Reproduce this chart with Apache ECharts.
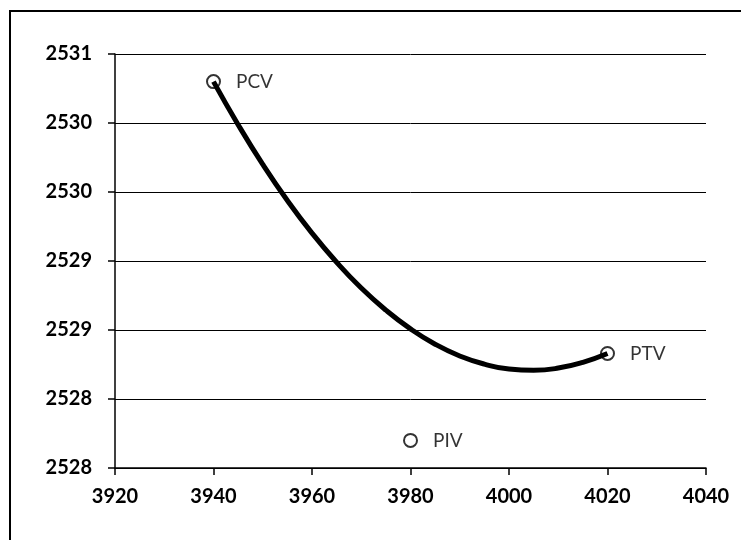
<!DOCTYPE html>
<html>
<head>
<meta charset="utf-8">
<script src="https://cdn.jsdelivr.net/npm/echarts@6/dist/echarts.min.js"></script>
<style>
html,body{margin:0;padding:0;background:#fff;}
#chart{width:741px;height:540px;}
</style>
</head>
<body>
<div id="chart"></div>
<script>
// Vertical curve
const curveStations = [3940, 3945, 3950, 3955, 3960, 3965, 3970, 3975, 3980, 3985, 3990, 3995, 4000, 4005, 4010, 4015, 4020];
const curveElevations = [2530.800, 2530.488, 2530.200, 2529.938, 2529.702, 2529.491, 2529.304, 2529.144, 2529.008, 2528.897, 2528.812, 2528.753, 2528.717, 2528.708, 2528.724, 2528.766, 2528.830];
// Key points
const pointNames = ['PCV', 'PIV', 'PTV'];
const pointStations = [3940, 3980, 4020];
const pointElevations = [2530.80, 2528.20, 2528.83];
// Axes
const xMin = 3920, xMax = 4040, xStep = 20;
const yMin = 2528, yMax = 2531, yStep = 0.5;

const chart = echarts.init(document.getElementById('chart'));
const font = 'Lato, "Liberation Sans", sans-serif';

chart.setOption({
  animation: false,
  backgroundColor: '#fff',
  graphic: [{
    type: 'rect',
    shape: { x: 10, y: 11, width: 800, height: 600 },
    style: { fill: 'none', stroke: '#000', lineWidth: 2 },
    silent: true
  }],
  grid: { left: 115, right: 35, top: 54, bottom: 72 },
  xAxis: {
    type: 'value', min: xMin, max: xMax, interval: xStep,
    axisLine: { show: true, lineStyle: { color: '#000', width: 1.5 } },
    axisTick: { show: true, length: 7, lineStyle: { color: '#000', width: 1.5 } },
    splitLine: { show: false },
    axisLabel: {
      color: '#000', fontFamily: font, fontWeight: 'bold', fontSize: 20, margin: 19,
      formatter: v => String(v)
    }
  },
  yAxis: {
    type: 'value', min: yMin, max: yMax, interval: yStep,
    axisLine: { show: true, lineStyle: { color: '#000', width: 1.5 } },
    axisTick: { show: true, length: 7, lineStyle: { color: '#000', width: 1.5 } },
    splitLine: { show: true, lineStyle: { color: '#000', width: 1 } },
    axisLabel: {
      color: '#000', fontFamily: font, fontWeight: 'bold', fontSize: 20, margin: 23,
      formatter: v => String(Math.floor(v))
    }
  },
  series: [
    {
      type: 'line',
      data: curveStations.map((x, i) => [x, curveElevations[i]]),
      smooth: true,
      showSymbol: false,
      lineStyle: { color: '#000', width: 5 },
      z: 2
    },
    {
      type: 'scatter',
      data: pointStations.map((x, i) => ({ value: [x, pointElevations[i]], name: pointNames[i] })),
      symbol: 'circle',
      symbolSize: 13,
      itemStyle: { color: 'rgba(255,255,255,0)', borderColor: '#000', borderWidth: 2 },
      label: {
        show: true, position: 'right', distance: 15,
        formatter: p => p.name,
        color: '#000', fontFamily: font, fontSize: 19
      },
      z: 3
    }
  ]
});
</script>
</body>
</html>
